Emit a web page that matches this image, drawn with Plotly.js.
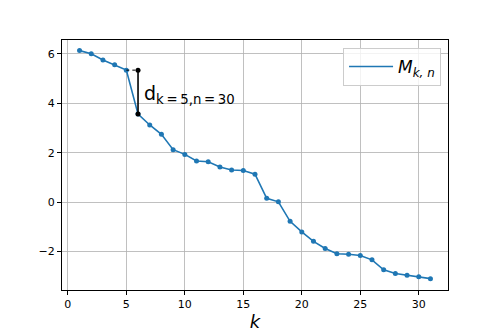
<!DOCTYPE html>
<html>
<head>
<meta charset="utf-8">
<script src="https://cdn.plot.ly/plotly-3.0.1.min.js"></script>
<style>
  html, body { margin: 0; padding: 0; background: #fff; }
  #chart { width: 498px; height: 332px; }
</style>
</head>
<body>
<div id="chart"></div>
<script>
// M_{k,n} values, k = 1..31
const kValues = [1, 2, 3, 4, 5, 6, 7, 8, 9, 10, 11, 12, 13, 14, 15, 16,
                 17, 18, 19, 20, 21, 22, 23, 24, 25, 26, 27, 28, 29, 30, 31];
const mValues = [6.13, 6.00, 5.75, 5.56, 5.34, 3.56, 3.12, 2.74, 2.12, 1.93, 1.66,
                 1.63, 1.42, 1.30, 1.28, 1.13, 0.15, 0.01, -0.78, -1.21, -1.59,
                 -1.88, -2.09, -2.11, -2.16, -2.34, -2.74, -2.89, -2.96, -3.02, -3.10];

// the gap marked on the chart
const gapK = 5;
const gapLabel = 'd<sub>k\u2009=\u20095,n\u2009=\u200930</sub>';
const seriesName = '<i>M</i><sub><i>k, n</i></sub>';

const blue = '#1f77b4';
const font = 'DejaVu Sans';

const mAt = k => mValues[kValues.indexOf(k)];
const yTop = mAt(gapK);
const yBot = mAt(gapK + 1);

const traces = [
  {
    x: kValues, y: mValues,
    type: 'scatter', mode: 'lines+markers', showlegend: false,
    line: { color: blue, width: 1.6 },
    marker: { color: blue, size: 5 }
  },
  {
    // legend entry only: matplotlib shows just the line
    x: [null], y: [null], type: 'scatter', mode: 'lines',
    name: seriesName, line: { color: blue, width: 1.6 }
  },
  {
    // dashed level of M at k=5 carried over to k=6
    x: [gapK, gapK + 1], y: [yTop, yTop],
    type: 'scatter', mode: 'lines', showlegend: false,
    line: { color: 'black', width: 1, dash: '3px,3px' }
  },
  {
    x: [gapK + 1, gapK + 1], y: [yTop, yBot],
    type: 'scatter', mode: 'lines+markers', showlegend: false,
    line: { color: 'black', width: 1.6 },
    marker: { color: 'black', size: 5 }
  }
];

const axisBase = {
  showline: true, mirror: true, linecolor: 'black', linewidth: 1,
  ticks: 'outside', ticklen: 4, tickwidth: 1, tickcolor: 'black',
  showgrid: true, gridcolor: '#b0b0b0', gridwidth: 0.8,
  zeroline: false,
  tickfont: { family: font, size: 11, color: 'black' }
};

const layout = {
  width: 498, height: 332,
  margin: { l: 62, r: 50, t: 40, b: 42 },
  paper_bgcolor: 'white', plot_bgcolor: 'white',
  font: { family: font, color: 'black' },
  xaxis: Object.assign({}, axisBase, {
    range: [-0.5, 32.5], tickvals: [0, 5, 10, 15, 20, 25, 30],
    title: { text: '<i>k</i>', font: { family: font, size: 18 }, standoff: 10 }
  }),
  yaxis: Object.assign({}, axisBase, {
    range: [-3.56, 6.56], tickvals: [-2, 0, 2, 4, 6]
  }),
  showlegend: true,
  legend: {
    x: 0.982, y: 0.968, xanchor: 'right', yanchor: 'top',
    bgcolor: 'rgba(255,255,255,0.8)', bordercolor: '#cccccc', borderwidth: 1,
    itemwidth: 44,
    font: { family: font, size: 17, color: 'black' }
  },
  annotations: [{
    x: gapK + 1, y: 4.35, xref: 'x', yref: 'y',
    xanchor: 'left', yanchor: 'middle', xshift: 4,
    text: gapLabel, showarrow: false,
    font: { family: font, size: 19, color: 'black' }
  }]
};

Plotly.newPlot('chart', traces, layout, { staticPlot: true });
</script>
</body>
</html>
